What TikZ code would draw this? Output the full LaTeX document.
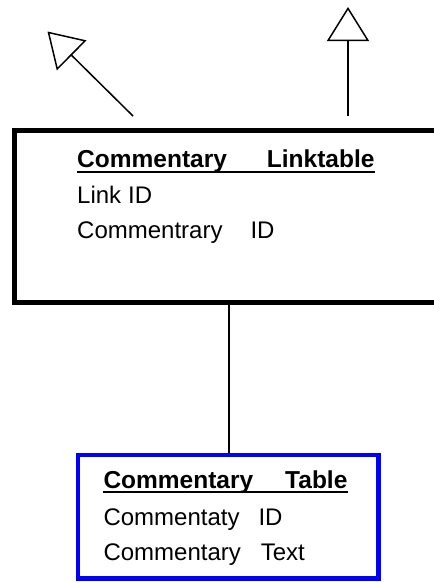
\documentclass[tikz,border=0pt]{standalone}
\usepackage{fontspec}
\setmainfont{Liberation Sans}
\usetikzlibrary{arrows.meta}
\tikzset{
  entity/.style={draw, line width=5pt, inner sep=0pt, anchor=north west},
  lbl/.style={anchor=base west, inner sep=0pt, font=\fontsize{24}{28}\selectfont},
  ttl/.style={lbl, font=\fontsize{24.5}{28}\selectfont\bfseries},
  uline/.style={line width=2pt},
  conn/.style={line width=1.5pt},
  inh/.style={conn, -{Triangle[open, length=34pt, width=42pt, line width=1.5pt]}}
}
\begin{document}
\begin{tikzpicture}[x=1pt,y=-1pt]
\useasboundingbox (0,0) rectangle (434,582);
\clip (0,0) rectangle (434,582);
% entities
\node[entity, minimum width=460pt, minimum height=172.5pt] (link) at (12,127.5) {};
\node[entity, draw=blue, line width=4.5pt, minimum width=300.5pt, minimum height=123.5pt] (table) at (75.7,452.5) {};
% texts
\node[ttl] (t1) at (77,167.5) {Commentary\hspace{40pt}Linktable};
\draw[uline] ([yshift=-4.5pt]t1.base west) -- ([yshift=-4.5pt]t1.base east);
\node[lbl] (l1) at (77,203.5) {Link\hspace{7pt}ID};
\node[lbl] (l2) at (77,238) {Commentrary\hspace{28pt}ID};
\node[ttl] (t2) at (103.3,488.3) {Commentary\hspace{32pt}Table};
\draw[uline] ([yshift=-4pt]t2.base west) -- ([yshift=-4pt]t2.base east);
\node[lbl] (l3) at (103.3,525) {Commentaty\hspace{19pt}ID};
\node[lbl] (l4) at (103.3,560) {Commentary\hspace{20pt}Text};
% connectors
\coordinate (c1) at (229,300);
\draw[conn] (c1) -- (c1 |- table.north);
\coordinate (a1s) at (133,116);
\coordinate (a1e) at (47.5,31.5);
\draw[inh] (a1s) -- (a1e);
\coordinate (a2s) at (348,116);
\coordinate (a2e) at (348,7);
\draw[inh] (a2s) -- (a2e);
\end{tikzpicture}
\end{document}
